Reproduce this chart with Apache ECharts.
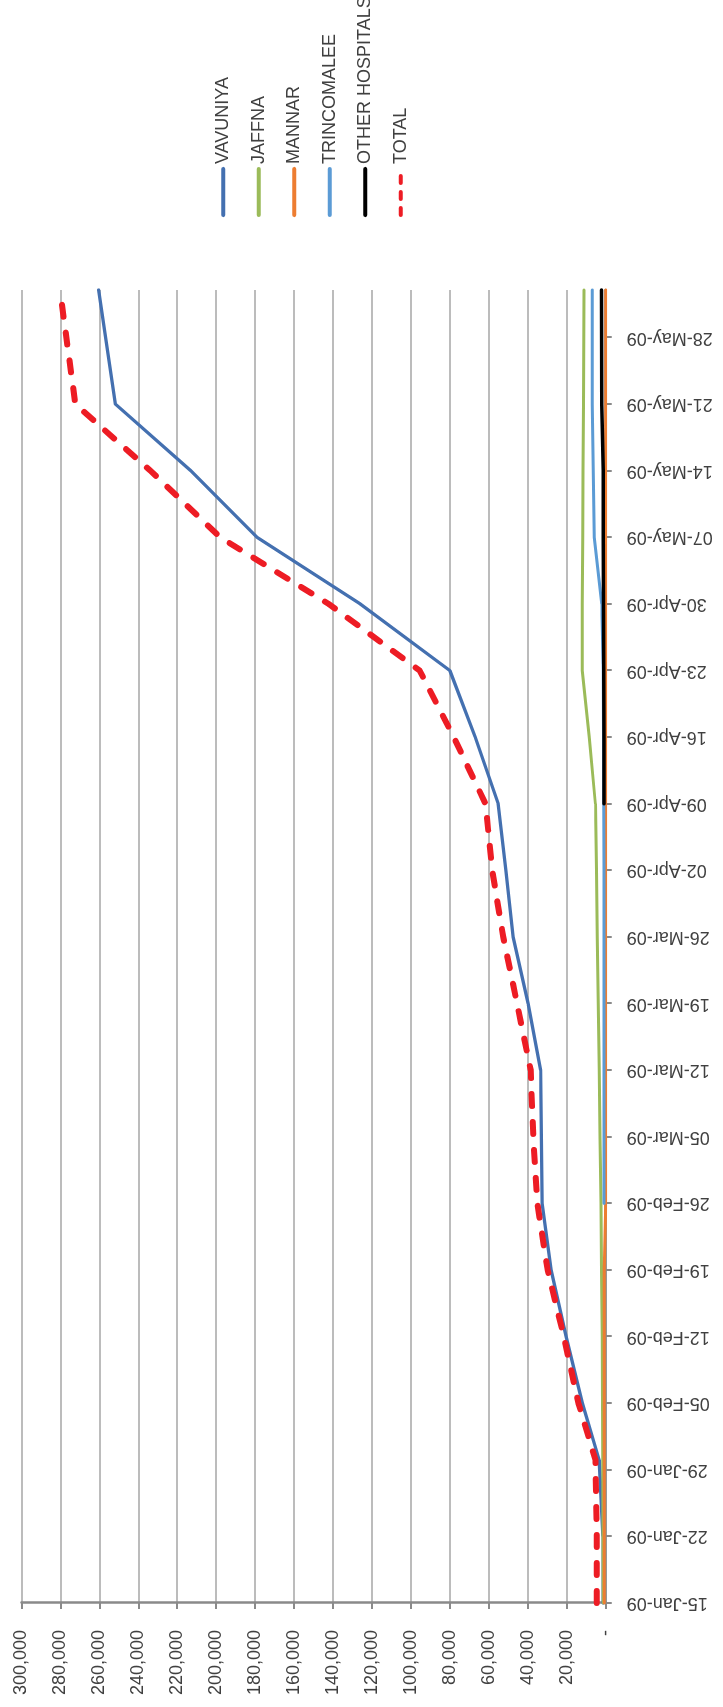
<!DOCTYPE html>
<html>
<head>
<meta charset="utf-8">
<script src="https://cdn.jsdelivr.net/npm/echarts@6.0.0/dist/echarts.min.js"></script>
<style>
html,body{margin:0;padding:0;background:#fff;overflow:hidden}
#wrap{position:relative;width:723px;height:1707px;overflow:hidden;background:#fff}
#chart{position:absolute;left:0;top:0;width:1707px;height:723px;transform-origin:0 0;transform:translateY(1707px) rotate(-90deg)}
</style>
</head>
<body>
<div id="wrap"><div id="chart"></div></div>
<script>
// ---- data ----
const dates = ['2009-01-15','2009-01-22','2009-01-30','2009-02-05','2009-02-12','2009-02-19','2009-02-26',
  '2009-03-05','2009-03-12','2009-03-19','2009-03-26','2009-04-02','2009-04-09','2009-04-16','2009-04-23',
  '2009-04-30','2009-05-07','2009-05-14','2009-05-21','2009-06-02'];
const vavuniya = [1300,1400,3300,12000,20300,28000,32600,33000,33400,39800,47500,51200,55200,67000,80000,126000,179000,213000,251700,260300];
const jaffna = [1300,1400,1500,1600,1800,2100,2400,2900,3300,3800,4300,4700,5300,8500,12000,12000,11800,11600,11400,11100];
const mannar = [700,700,700,700,700,700,0,0,0,0,0,0,0,0,0,0,0,0,0,0];
const trincomalee = [null,null,null,null,null,null,900,900,900,900,900,900,1000,1100,1200,2000,5900,6400,6900,6900];
const otherHospitals = [null,null,null,null,null,null,null,null,null,null,null,null,900,900,1000,1100,1200,1300,2000,2100];
const total = [4600,4600,5200,14000,21500,29800,35100,37200,38500,45500,52600,58300,61700,78000,95500,142200,197900,233700,272300,280200];

const tickDates = ['2009-01-15','2009-01-22','2009-01-29','2009-02-05','2009-02-12','2009-02-19','2009-02-26',
  '2009-03-05','2009-03-12','2009-03-19','2009-03-26','2009-04-02','2009-04-09','2009-04-16','2009-04-23',
  '2009-04-30','2009-05-07','2009-05-14','2009-05-21','2009-05-28'];
const tickLabels = ['15-Jan-09','22-Jan-09','29-Jan-09','05-Feb-09','12-Feb-09','19-Feb-09','26-Feb-09',
  '05-Mar-09','12-Mar-09','19-Mar-09','26-Mar-09','02-Apr-09','09-Apr-09','16-Apr-09','23-Apr-09',
  '30-Apr-09','07-May-09','14-May-09','21-May-09','28-May-09'];
const seriesNames = ['VAVUNIYA','JAFFNA','MANNAR','TRINCOMALEE','OTHER HOSPITALS','TOTAL'];
const axisMaxDate = '2009-06-02';

// ---- helpers ----
function dayOf(s){const p=s.split('-').map(Number);return (Date.UTC(p[0],p[1]-1,p[2])-Date.UTC(2009,0,15))/86400000;}
const tickDays = tickDates.map(dayOf);
const labelByDay = {}; tickDays.forEach((d,i)=>labelByDay[d]=tickLabels[i]);
function pairs(arr){return dates.map((d,i)=>[dayOf(d),arr[i]]);}
function fmt(v){if(v===0)return '-';return String(v).replace(/\B(?=(\d{3})+(?!\d))/g, ',');}

const FONT = 'Liberation Sans, Arial, sans-serif';
const TXT = '#404040';
const AXIS = '#8a8a8a';

const chart = echarts.init(document.getElementById('chart'), null, {renderer:'canvas'});
function lineSeries(name, arr, color, width, extra){
  return Object.assign({
    name: name, type:'line', data: pairs(arr), symbol:'none', showSymbol:false,
    connectNulls:false, silent:true, animation:false,
    lineStyle:{color:color, width:width, cap:'round', join:'round'},
    itemStyle:{color:color}
  }, extra||{});
}
chart.setOption({
  backgroundColor:'#ffffff',
  animation:false,
  textStyle:{fontFamily:FONT},
  grid:{left:104, right:290, top:21.4, bottom:117.3, outerBoundsMode:'none', containLabel:false},
  legend:{
    orient:'vertical', left:1485, top:208.3, itemWidth:46, itemHeight:20, itemGap:15.5,
    textStyle:{fontSize:18, color:TXT, fontFamily:FONT, lineHeight:20},
    lineStyle:{width:4},
    itemStyle:{opacity:0},
    data: seriesNames.map((n,i)=> i===5 ? {name:n, lineStyle:{width:4, type:[7,9], cap:'round'}} : {name:n}),
    selectedMode:false
  },
  xAxis:{
    type:'value', min:0, max:dayOf(axisMaxDate),
    splitLine:{show:false},
    axisLine:{show:true, lineStyle:{color:AXIS, width:2.5}},
    axisTick:{show:true, customValues:tickDays, length:6, lineStyle:{color:AXIS, width:2}},
    axisLabel:{customValues:tickDays, rotate:90, margin:21, fontSize:18, color:TXT, fontFamily:FONT,
      formatter:(v)=>labelByDay[v]!==undefined?labelByDay[v]:''}
  },
  yAxis:{
    type:'value', min:0, max:300000, interval:20000,
    axisLine:{show:true, lineStyle:{color:AXIS, width:2.5}},
    axisTick:{show:true, length:6, lineStyle:{color:AXIS, width:2}},
    splitLine:{show:true, lineStyle:{color:'#a6a6a6', width:1.6}},
    axisLabel:{margin:27, fontSize:18, color:TXT, fontFamily:FONT, formatter:fmt}
  },
  series:[
    lineSeries(seriesNames[0], vavuniya, '#4470B0', 3.3),
    lineSeries(seriesNames[1], jaffna, '#9BBB59', 3),
    lineSeries(seriesNames[2], mannar, '#ED7D31', 3),
    lineSeries(seriesNames[3], trincomalee, '#5B9BD5', 3),
    lineSeries(seriesNames[4], otherHospitals, '#000000', 3.5),
    lineSeries(seriesNames[5], total, '#ED1C24', 6, {lineStyle:{color:'#ED1C24', width:6, type:[12,16], cap:'round', join:'round'}})
  ]
});
</script>
</body>
</html>
